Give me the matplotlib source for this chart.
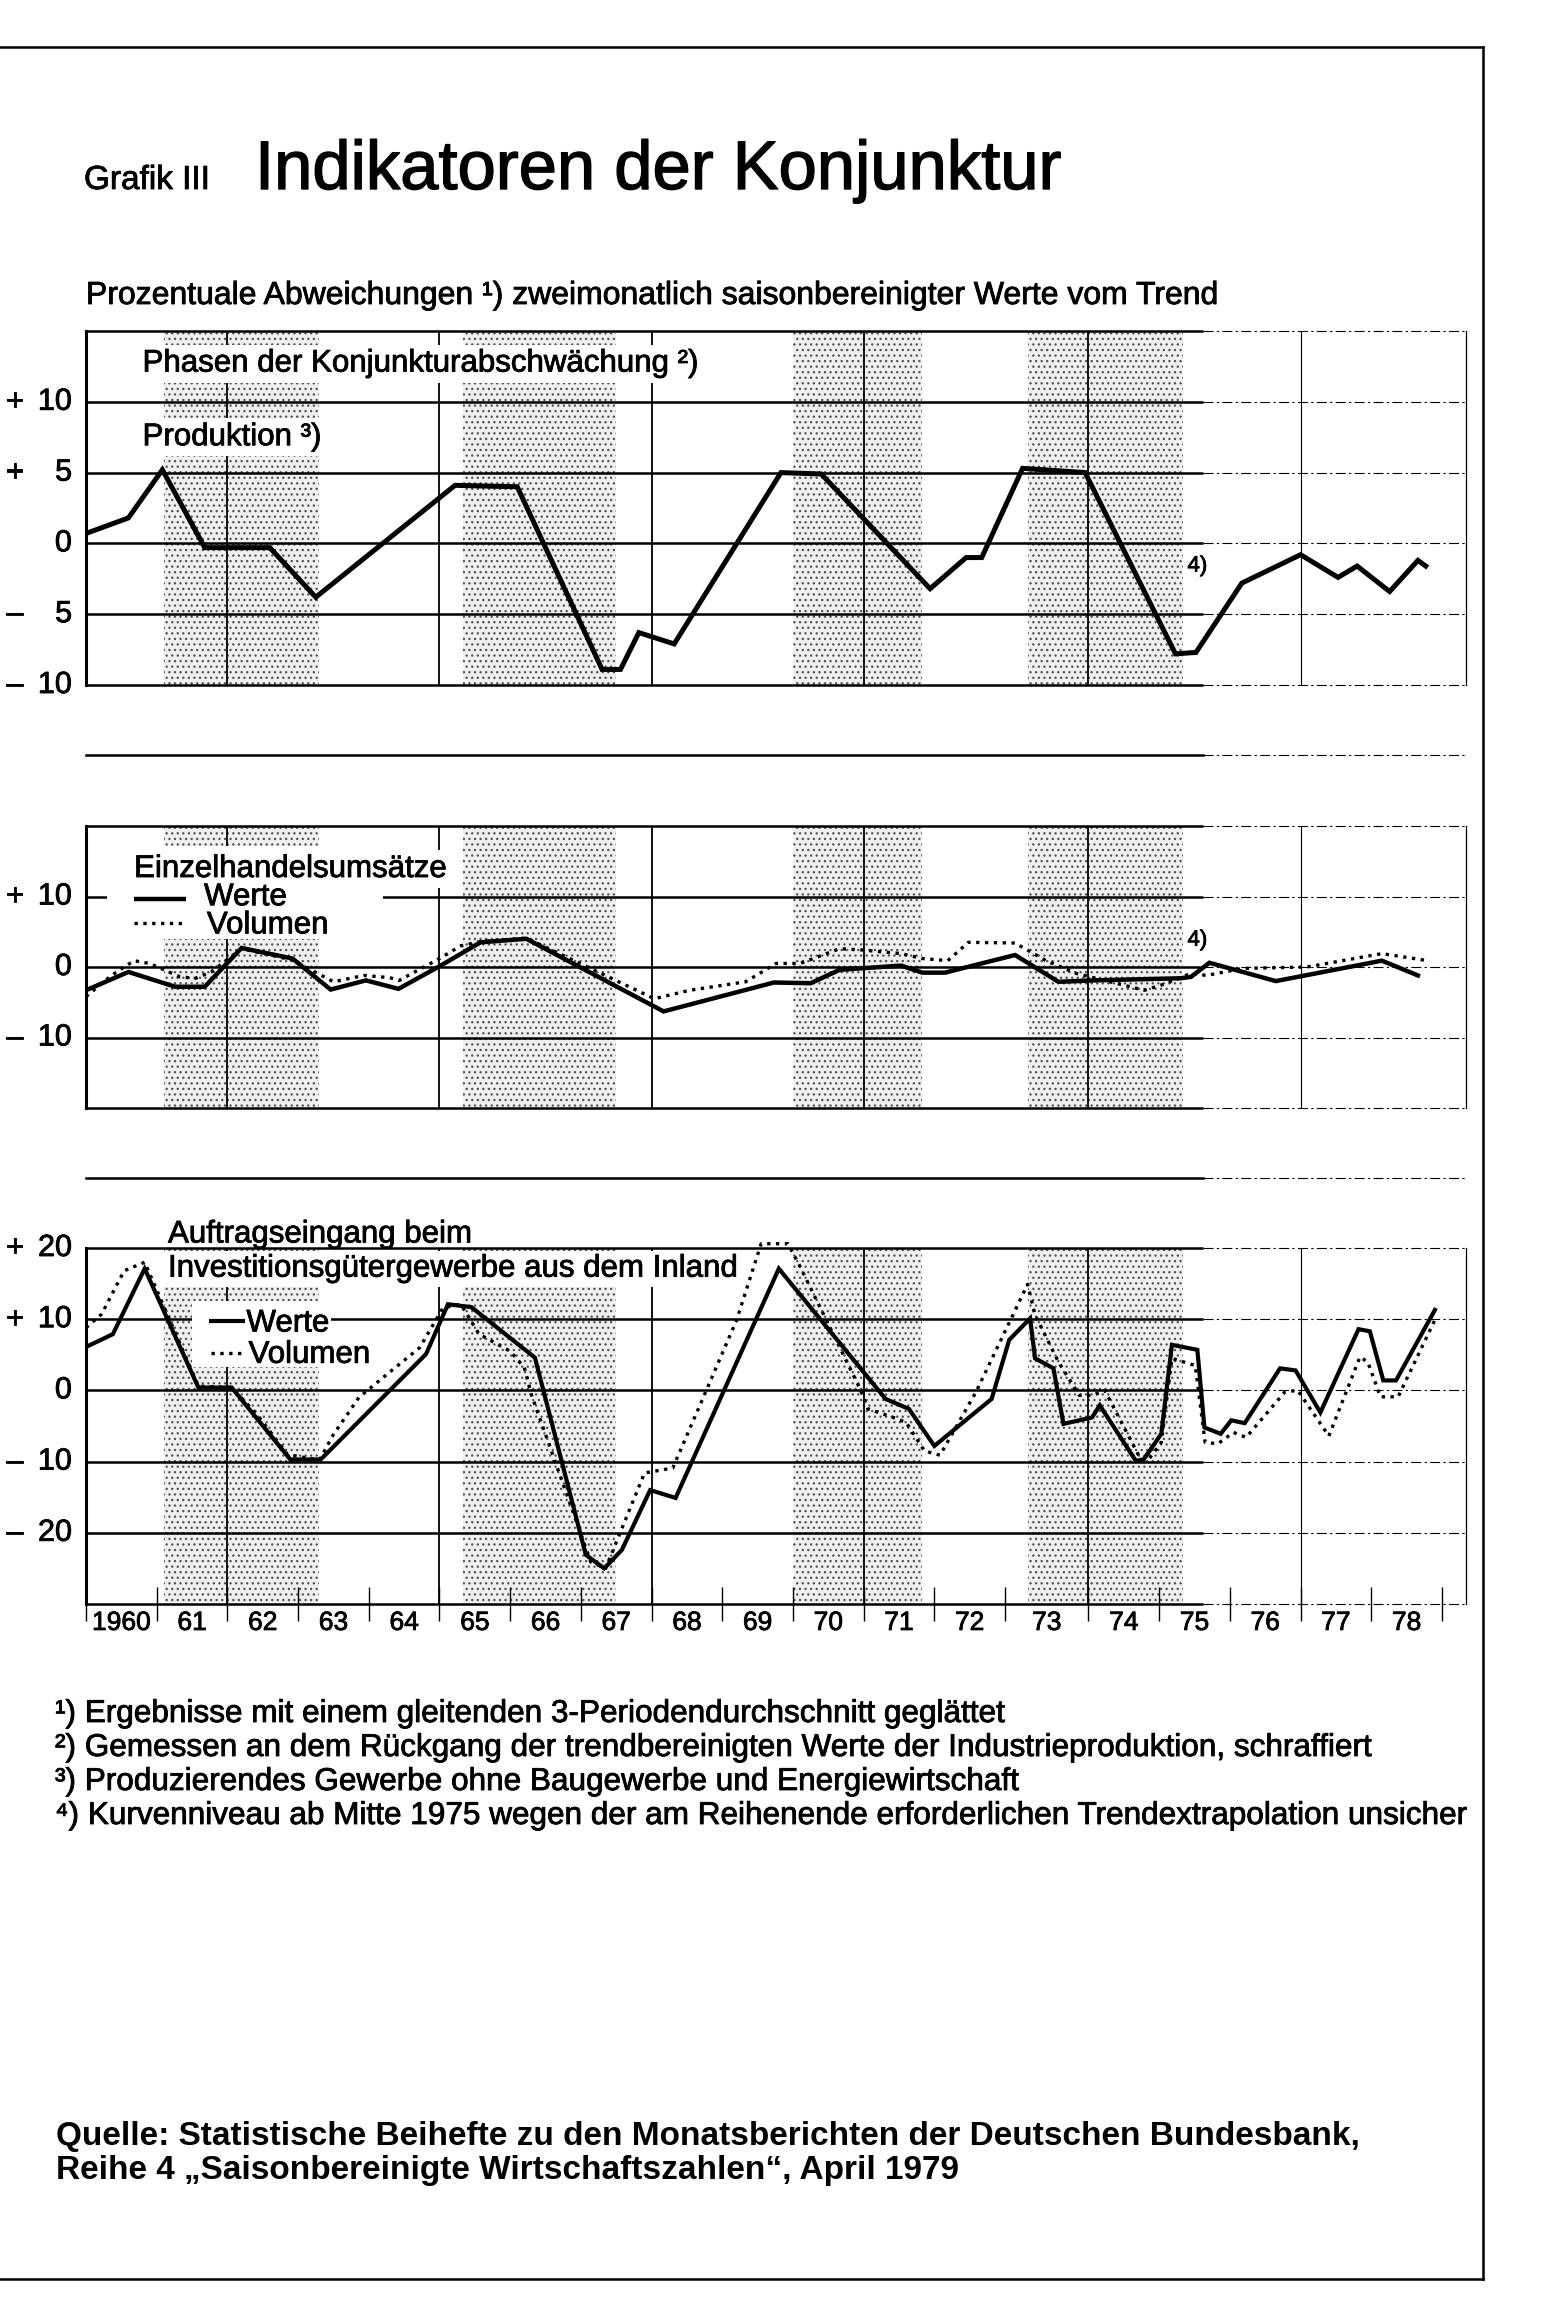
import numpy as np
import matplotlib
matplotlib.use("Agg")
import matplotlib.pyplot as plt
from matplotlib import transforms
from matplotlib import patheffects as pe
from matplotlib.lines import Line2D
from matplotlib.patches import Rectangle

plt.rcParams['font.family'] = ['Liberation Sans', 'DejaVu Sans']
plt.rcParams['hatch.linewidth'] = 0.9

# Phasen der Konjunkturabschwaechung (schraffiert)
phase_start = [1961.1, 1965.33, 1970.0, 1973.27]
phase_end = [1963.3, 1967.5, 1971.83, 1975.33]

# Produktion
prod_years = [1960.0, 1960.6, 1961.08, 1961.68, 1962.6, 1963.25, 1965.22, 1966.1, 1967.3, 1967.56,
              1967.82, 1968.32, 1969.83, 1970.4, 1971.94, 1972.45, 1972.67, 1973.21, 1973.96, 1975.23,
              1975.52, 1976.17, 1977.0, 1977.53, 1977.8, 1978.26, 1978.66, 1978.77]
prod_vals = [0.7, 1.8, 5.2, -0.3, -0.3, -3.8, 4.1, 4.0, -8.9, -8.9,
             -6.3, -7.1, 5.0, 4.9, -3.2, -1.0, -1.0, 5.3, 5.0, -7.8,
             -7.7, -2.8, -0.8, -2.4, -1.6, -3.4, -1.2, -1.6]

# Einzelhandelsumsaetze
retail_years = [1960.0, 1960.6, 1961.26, 1961.68, 1962.2, 1962.92, 1963.46, 1963.96, 1964.42, 1965.0,
                1965.58, 1966.23, 1968.17, 1969.73, 1970.25, 1970.66, 1971.53, 1971.83, 1972.15, 1973.12,
                1973.64, 1974.06, 1975.3, 1975.45, 1975.71, 1976.65, 1978.15, 1978.66]
retail_werte = [-3.3, -0.7, -2.8, -2.8, 2.7, 1.2, -3.2, -1.9, -3.1, 0.1,
                3.5, 4.0, -6.3, -2.2, -2.3, -0.4, 0.2, -0.8, -0.8, 1.7,
                -2.1, -1.9, -1.6, -1.4, 0.6, -2.0, 0.9, -1.2]
retail_vol_years = [1960.0, 1960.36, 1960.68, 1960.9, 1961.33, 1961.55, 1961.77, 1962.2, 1962.92, 1963.5,
                    1963.93, 1964.29, 1964.43, 1965.0, 1965.3, 1965.58, 1966.23, 1968.04, 1968.54, 1969.33,
                    1969.76, 1970.1, 1970.66, 1971.0, 1971.53, 1971.83, 1972.19, 1972.48, 1973.12, 1973.49,
                    1973.85, 1974.79, 1975.08, 1975.45, 1975.67, 1976.18, 1977.09, 1978.15, 1978.8]
retail_vol = [-4.2, -1.2, 0.9, 0.5, -1.4, -1.6, -0.7, 2.6, 1.0, -2.1,
              -1.2, -1.5, -1.9, 1.2, 3.0, 3.6, 4.1, -4.5, -3.3, -2.1,
              0.5, 0.5, 2.6, 2.4, 1.9, 1.2, 0.9, 3.5, 3.4, 0.9,
              -0.9, -3.3, -2.4, -0.9, -1.2, -0.2, 0.0, 1.9, 0.9]

# Auftragseingang beim Investitionsgütergewerbe aus dem Inland
orders_years = [1960.0, 1960.38, 1960.83, 1961.59, 1962.06, 1962.89, 1963.32, 1964.81, 1965.12, 1965.45,
                1966.35, 1967.07, 1967.33, 1967.58, 1967.98, 1968.34, 1969.8, 1971.31, 1971.64, 1972.0,
                1972.81, 1973.05, 1973.3, 1973.36, 1973.58, 1973.7, 1974.05, 1974.16, 1974.67, 1974.78,
                1975.03, 1975.18, 1975.54, 1975.64, 1975.87, 1976.02, 1976.21, 1976.71, 1976.93, 1977.28,
                1977.82, 1977.98, 1978.17, 1978.35, 1978.9]
orders_werte = [6.1, 7.9, 17.1, 0.4, 0.4, -9.7, -9.7, 5.1, 12.1, 11.7,
                4.6, -23.1, -25.0, -22.4, -14.0, -15.1, 17.1, -1.2, -2.6, -7.8,
                -1.2, 7.1, 10.1, 4.5, 3.1, -4.7, -3.8, -2.1, -9.9, -9.7,
                -6.1, 6.4, 5.7, -5.2, -6.1, -4.2, -4.6, 3.1, 2.8, -3.1,
                8.6, 8.3, 1.4, 1.4, 11.3]
orders_vol_years = [1960.0, 1960.22, 1960.54, 1960.83, 1961.59, 1962.06, 1962.42, 1962.85, 1963.3, 1963.5,
                    1963.86, 1964.14, 1964.72, 1965.05, 1965.3, 1965.56, 1966.0, 1966.2, 1966.3, 1967.14,
                    1967.35, 1967.9, 1968.3, 1969.2, 1969.55, 1969.93, 1970.11, 1970.95, 1971.06, 1971.42,
                    1971.6, 1971.86, 1972.08, 1972.59, 1973.27, 1973.36, 1973.64, 1973.89, 1974.05, 1974.23,
                    1974.74, 1974.85, 1975.03, 1975.18, 1975.51, 1975.65, 1975.83, 1976.05, 1976.23, 1976.78,
                    1976.96, 1977.4, 1977.84, 1977.95, 1978.13, 1978.38, 1978.9]
orders_vol = [8.8, 10.7, 16.8, 18.0, 0.6, 0.4, -3.4, -9.0, -9.8, -6.2,
              -1.0, 1.3, 6.0, 11.6, 12.1, 7.9, 5.5, 3.2, -0.6, -24.1,
              -25.0, -11.6, -10.9, 9.8, 20.6, 20.6, 17.2, 0.2, -2.6, -3.8,
              -4.5, -8.5, -9.1, -0.2, 14.9, 10.6, 4.0, -0.7, -0.7, 0.0,
              -9.7, -9.7, -7.3, 4.5, 3.5, -7.3, -7.5, -5.9, -6.6, -0.2,
              0.0, -6.4, 4.7, 4.0, -0.9, -0.9, 9.9]

year_labels = ['1960'] + [str(y % 100) for y in range(1961, 1979)]
prod_ticks = [10, 5, 0, -5, -10]
retail_ticks = [10, 0, -10]
orders_ticks = [20, 10, 0, -10, -20]

footnotes = [
    '¹) Ergebnisse mit einem gleitenden 3-Periodendurchschnitt geglättet',
    '²) Gemessen an dem Rückgang der trendbereinigten Werte der Industrieproduktion, schraffiert',
    '³) Produzierendes Gewerbe ohne Baugewerbe und Energiewirtschaft',
    '⁴) Kurvenniveau ab Mitte 1975 wegen der am Reihenende erforderlichen Trendextrapolation unsicher',
]
source_lines = [
    'Quelle: Statistische Beihefte zu den Monatsberichten der Deutschen Bundesbank,',
    'Reihe 4 „Saisonbereinigte Wirtschaftszahlen“, April 1979',
]

# page geometry (pixels)
W, H = 1560, 2321
LEFT, RIGHT = 86, 1466
XMAX = 19.52        # right border in chart units (1960 = 0)
SOLID_END = 15.8    # grid drawn broken after mid 1975
FS = 22.5           # body text size

ink = [pe.withStroke(linewidth=0.6, foreground='black')]


def xpos(years):
    # 1973 is drawn a bit wider than the other years on the original
    t = np.asarray(years, dtype=float) - 1960
    return t + 0.18 * np.clip(t - 13, 0, 1)


fig = plt.figure(figsize=(W / 100, H / 100), dpi=100)
fig.patch.set_facecolor('white')


def make_axes(top, bottom):
    ax = fig.add_axes([LEFT / W, 1 - bottom / H, (RIGHT - LEFT) / W, (bottom - top) / H])
    for s in ax.spines.values():
        s.set_visible(False)
    ax.set_xlim(0, XMAX)
    ax.set_xticks([])
    ax.set_yticks([])
    ax.patch.set_alpha(0)
    return ax


def hline(ax, v):
    ax.plot([0, SOLID_END], [v, v], color='black', lw=1.8, solid_capstyle='butt', zorder=2, clip_on=False)
    ax.plot([SOLID_END, XMAX], [v, v], color='black', lw=0.8, ls=(0, (9, 3, 2, 3)), zorder=2, clip_on=False)


def setup_panel(ax, ylo, yhi, grid, ticks):
    ax.set_ylim(ylo, yhi)
    for a, b in zip(phase_start, phase_end):
        ax.axvspan(xpos(a), xpos(b), facecolor='#efefef', edgecolor='#505050', hatch='...', lw=0, zorder=1)
    for v in grid + [ylo, yhi]:
        hline(ax, v)
    for yr in [1962, 1965, 1968, 1971, 1974]:
        ax.axvline(xpos(yr), color='black', lw=1.3, zorder=2)
    ax.axvline(xpos(1977), color='black', lw=0.8, zorder=2)
    ax.axvline(0, color='black', lw=2.2, zorder=2, clip_on=False)
    ax.axvline(XMAX, color='black', lw=0.9, zorder=2, clip_on=False)
    tr = transforms.blended_transform_factory(fig.transFigure, ax.transData)
    for v in ticks:
        if v != 0:
            ax.text(6 / W, v, '+' if v > 0 else '–', transform=tr, ha='left', va='center',
                    fontsize=22, path_effects=ink)
        ax.text(72 / W, v, str(abs(v)), transform=tr, ha='right', va='center', fontsize=22, path_effects=ink)


def mask(ax, x0, x1, y0, y1):
    ax.add_patch(Rectangle((x0, y0), x1 - x0, y1 - y0, facecolor='white', edgecolor='none', zorder=3))


white = dict(facecolor='white', edgecolor='none', pad=3)

# --- Produktion ---
ax1 = make_axes(331, 685)
setup_panel(ax1, -10, 15, [10, 5, 0, -5], prod_ticks)
ax1.text(0.8, 12.7, 'Phasen der Konjunkturabschwächung ²)', fontsize=FS, va='center', bbox=white,
         zorder=4, path_effects=ink)
ax1.text(0.8, 7.5, 'Produktion ³)', fontsize=FS, va='center', bbox=white, zorder=4, path_effects=ink)
ax1.plot(xpos(prod_years), prod_vals, color='black', lw=3.6, solid_joinstyle='miter', zorder=5)
ax1.text(15.72, -1.6, '4)', fontsize=16, ha='center', va='center', zorder=6, path_effects=ink)

# --- Einzelhandelsumsaetze ---
ax2 = make_axes(826, 1108)
setup_panel(ax2, -20, 20, [10, 0, -10], retail_ticks)
mask(ax2, 0.3, 4.2, 4.0, 17.2)
ax2.text(0.68, 13.9, 'Einzelhandelsumsätze', fontsize=FS, va='center', bbox=white, zorder=4, path_effects=ink)
ax2.plot([0.68, 1.41], [9.7, 9.7], color='black', lw=3.2, solid_capstyle='butt', zorder=5)
ax2.text(1.67, 9.9, 'Werte', fontsize=FS, va='center', zorder=5, path_effects=ink)
ax2.plot([0.68, 1.41], [6.3, 6.3], color='black', lw=2.4, ls=':', zorder=5)
ax2.text(1.71, 5.9, 'Volumen', fontsize=FS, va='center', zorder=5, path_effects=ink)
ax2.plot(xpos(retail_vol_years), retail_vol, color='black', lw=2.4, ls=':', zorder=5)
ax2.plot(xpos(retail_years), retail_werte, color='black', lw=3.2, solid_joinstyle='miter', zorder=5)
ax2.text(15.72, 3.8, '4)', fontsize=16, ha='center', va='center', zorder=6, path_effects=ink)

# --- Auftragseingang ---
ax3 = make_axes(1248, 1604)
setup_panel(ax3, -30, 20, [10, 0, -10, -20], orders_ticks)
mask(ax3, 1.1, 9.3, 14.5, 19.6)
mask(ax3, 1.5, 3.45, 3.3, 12.5)
ax3.text(1.16, 21.9, 'Auftragseingang beim', fontsize=FS, va='center', clip_on=False, path_effects=ink)
ax3.text(1.16, 17.1, 'Investitionsgütergewerbe aus dem Inland', fontsize=FS, va='center', zorder=4,
         path_effects=ink)
ax3.plot([1.74, 2.25], [9.8, 9.8], color='black', lw=3.0, solid_capstyle='butt', zorder=5)
ax3.text(2.27, 9.4, 'Werte', fontsize=FS, va='center', bbox=dict(facecolor='white', edgecolor='none', pad=1),
         zorder=4, path_effects=ink)
ax3.plot([1.77, 2.25], [5.2, 5.2], color='black', lw=2.4, ls=':', zorder=5)
ax3.text(2.3, 5.0, 'Volumen', fontsize=FS, va='center', zorder=5, path_effects=ink)
ax3.plot(xpos(orders_vol_years), orders_vol, color='black', lw=2.4, ls=':', zorder=5, clip_on=False)
ax3.plot(xpos(orders_years), orders_werte, color='black', lw=3.0, solid_joinstyle='miter', zorder=5)

ax3.set_xticks(xpos(np.arange(1960, 1980)))
ax3.set_xticklabels([])
ax3.set_xticks(xpos(np.arange(1960, 1979) + 0.5), minor=True)
ax3.set_xticklabels(year_labels, minor=True, fontsize=19)
for lab in ax3.get_xticklabels(minor=True):
    lab.set_path_effects(ink)
ax3.tick_params(axis='x', which='major', direction='inout', length=24, width=1.0, color='black')
ax3.tick_params(axis='x', which='minor', length=0, pad=5)

# separator lines between the panels
sep = transforms.blended_transform_factory(ax1.transData, fig.transFigure)
for ypx in [755, 1178]:
    yf = 1 - ypx / H
    ax1.plot([0, SOLID_END], [yf, yf], transform=sep, color='black', lw=1.8, clip_on=False)
    ax1.plot([SOLID_END, XMAX], [yf, yf], transform=sep, color='black', lw=0.8,
             ls=(0, (9, 3, 2, 3)), clip_on=False)

# titles
fig.text(84 / W, 1 - 189 / H, 'Grafik III', fontsize=24, va='baseline', path_effects=ink)
fig.text(255 / W, 1 - 189 / H, 'Indikatoren der Konjunktur', fontsize=49.5, va='baseline',
         path_effects=[pe.withStroke(linewidth=1.0, foreground='black')])
fig.text(86 / W, 1 - 296 / H, 'Prozentuale Abweichungen ¹) zweimonatlich saisonbereinigter Werte vom Trend',
         fontsize=23, va='center', path_effects=ink)

for i, line in enumerate(footnotes):
    fig.text(55 / W, 1 - (1714 + 34 * i) / H, line, fontsize=22.7, va='center', path_effects=ink)
for i, line in enumerate(source_lines):
    fig.text(56 / W, 1 - (2137 + 33 * i) / H, line, fontsize=24, fontweight='bold', va='center')

# page frame
fx = 1483 / W
for xs, ys in [([0, fx], [1 - 47 / H] * 2), ([fx, fx], [1 - 47 / H, 1 - 2279 / H]), ([0, fx], [1 - 2279 / H] * 2)]:
    fig.add_artist(Line2D(xs, ys, transform=fig.transFigure, color='black', lw=1.8))

fig.savefig('out.png', dpi=100, facecolor='white')
